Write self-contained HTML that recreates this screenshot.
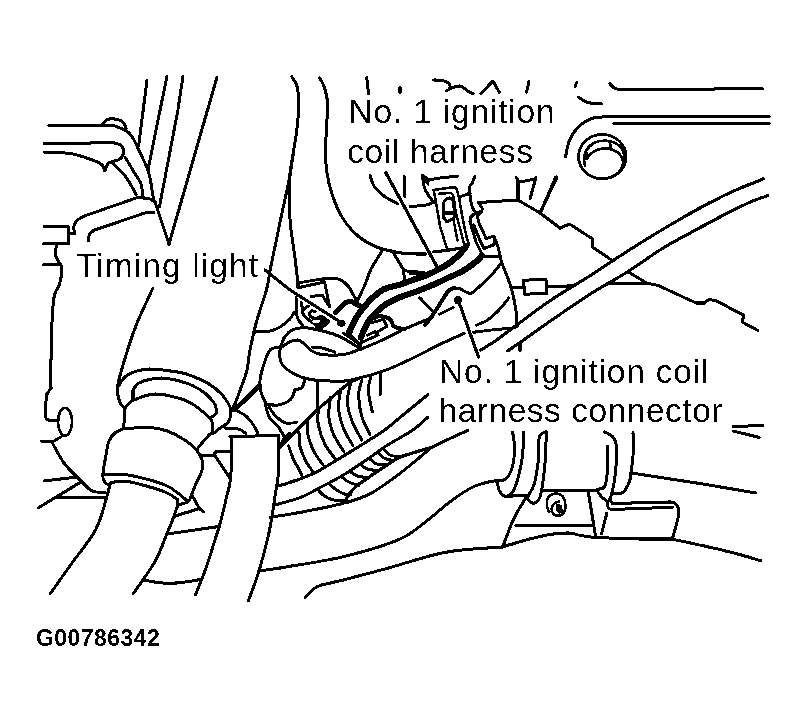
<!DOCTYPE html>
<html><head><meta charset="utf-8"><title>Timing light diagram</title>
<style>
html,body{margin:0;padding:0;background:#fff;}
body{width:807px;height:721px;overflow:hidden;font-family:"Liberation Sans",sans-serif;}
svg{display:block;}
text{font-family:"Liberation Sans",sans-serif;fill:#000;}
</style></head><body>
<svg width="807" height="721" viewBox="0 0 807 721">
<defs><filter id="bw" x="0" y="0" width="807" height="721" filterUnits="userSpaceOnUse" color-interpolation-filters="sRGB"><feComponentTransfer><feFuncR type="discrete" tableValues="0 1"/><feFuncG type="discrete" tableValues="0 1"/><feFuncB type="discrete" tableValues="0 1"/></feComponentTransfer></filter></defs>
<g filter="url(#bw)">
<rect width="807" height="721" fill="#fff"/>
<g fill="none" stroke="#000" stroke-width="3.0" stroke-linecap="round" stroke-linejoin="round">
<path d="M147.0,80.0 L138.6,146.0"/>
<path d="M167.0,76.0 L154.0,140.0 L148.0,170.0"/>
<path d="M183.0,76.0 L177.9,110.0 L159.4,207.0"/>
<path d="M217.0,77.0 L169.0,244.0"/>
<path d="M155.0,202.0 L169.0,244.0"/>
<path d="M48.7,125.2 L112.9,125.2"/>
<path d="M103.0,123.8 C103.5,123.2 104.7,121.1 106.0,120.3 C107.3,119.5 109.2,119.0 111.0,118.8 C112.8,118.6 115.0,118.9 116.8,119.3 C118.6,119.7 120.5,120.4 121.8,121.3 C123.1,122.2 124.0,123.6 124.8,124.8 C125.5,126.0 126.0,128.0 126.3,128.7"/>
<path d="M112.9,125.2 C114.6,125.9 120.2,127.9 122.8,129.2 C125.4,130.4 126.9,131.0 128.7,132.7 C130.5,134.4 132.0,136.6 133.7,139.6 C135.4,142.6 136.5,145.0 139.0,150.5 C141.5,156.0 146.2,164.6 148.6,172.4 C151.0,180.2 152.2,192.4 153.3,197.3 C154.4,202.2 154.7,201.2 155.0,202.0"/>
<path d="M44.0,143.6 L114.0,142.7"/>
<path d="M114.0,142.7 C115.2,143.2 119.4,143.9 121.0,145.5 C122.6,147.1 123.8,149.8 123.6,152.0 C123.4,154.2 121.8,157.4 120.0,159.0 C118.2,160.6 113.9,161.0 112.7,161.4"/>
<path d="M44.0,152.0 C48.4,152.3 62.5,152.3 70.6,153.6 C78.7,154.9 87.2,158.2 92.4,160.0 C97.6,161.8 99.7,162.8 101.8,164.6 C103.9,166.4 104.5,169.8 105.0,170.8"/>
<path d="M105.0,170.8 L108.0,163.0 L112.7,161.4"/>
<path d="M111.8,162.4 C113.8,164.3 120.2,170.1 123.5,174.0 C126.8,177.9 129.2,182.3 131.3,185.7 C133.4,189.1 135.3,193.0 136.1,194.5"/>
<path d="M125.4,157.6 C127.0,160.3 132.5,169.6 135.1,174.0 C137.7,178.4 139.7,179.9 141.0,183.8 C142.3,187.7 142.6,195.1 142.9,197.4"/>
<path d="M155.0,202.0 L150.0,199.0 L137.7,197.3 L130.0,200.2 L84.0,216.2"/>
<path d="M84.0,216.2 C82.9,216.8 79.2,218.4 77.5,220.0 C75.8,221.6 74.4,223.8 73.9,226.0 C73.4,228.2 74.3,232.2 74.4,233.5"/>
<path d="M74.4,233.5 L68.5,233.5"/>
<path d="M44.0,226.5 L68.5,226.5 L68.5,243.5 L43.5,243.5"/>
<path d="M56.4,244.4 C56.3,246.2 55.2,252.5 55.7,255.5 C56.2,258.5 58.1,260.3 59.1,262.4 C60.1,264.5 61.8,264.5 61.9,268.0 C62.0,271.5 60.8,279.3 59.8,283.2 C58.8,287.1 56.7,288.7 55.7,291.5 C54.7,294.3 54.2,294.9 53.6,300.0 C53.0,305.1 52.4,312.0 52.0,322.0 C51.6,332.0 51.2,349.0 51.0,360.0 C50.8,371.0 51.0,383.3 51.0,388.0"/>
<path d="M43.5,264.5 L59.8,264.5"/>
<path d="M88.5,240.5 L89.2,234.0 L93.5,230.5 L144.9,212.9 L153.6,212.5"/>
<path d="M51.0,388.0 L47.0,394.0"/>
<path d="M47.0,394.0 C46.7,396.7 45.2,406.0 45.0,410.0 C44.8,414.0 45.2,416.2 46.0,418.0 C46.8,419.8 48.0,420.2 50.0,420.5 C52.0,420.8 56.7,420.1 58.0,420.0"/>
<path d="M41.0,441.0 L52.0,442.0 L61.0,437.0"/>
<path d="M52.0,442.0 C54.0,445.5 59.1,456.4 64.0,463.0 C68.9,469.6 76.8,476.9 81.5,481.6 C86.2,486.3 88.5,489.2 92.4,491.0 C96.3,492.8 102.9,492.2 105.0,492.5"/>
<path d="M44.0,481.0 L77.0,477.0"/>
<path d="M38.0,508.0 L81.5,481.6"/>
<path d="M58.0,497.6 L106.5,497.6"/>
<path d="M153.0,288.0 C150.2,294.3 140.9,313.1 136.0,325.6 C131.1,338.1 126.7,352.6 123.6,363.0 C120.5,373.4 117.9,381.2 117.4,388.0 C116.9,394.8 119.2,400.3 120.5,403.6 C121.8,406.9 124.2,407.3 125.0,408.0"/>
<path d="M117.4,388.0 C119.0,385.9 121.6,378.7 126.8,375.5 C132.0,372.3 139.7,369.5 148.6,369.0 C157.5,368.5 172.7,371.3 180.0,372.5 C187.3,373.7 187.7,374.3 192.4,376.2 C197.2,378.1 203.8,380.7 208.5,383.6 C213.2,386.5 217.6,390.2 220.9,393.5 C224.2,396.8 226.7,400.6 228.3,403.5 C230.0,406.4 230.6,408.2 230.8,410.9 C231.0,413.6 230.4,417.3 229.6,419.6 C228.8,421.9 227.5,423.1 225.8,424.5 C224.2,425.9 221.8,426.8 219.7,428.2 C217.6,429.6 215.2,432.2 213.5,433.2 C211.8,434.2 212.0,432.3 209.7,434.4 C207.4,436.5 201.9,443.1 199.8,445.6 C197.7,448.1 197.7,448.7 197.3,449.3"/>
<path d="M133.0,391.0 C134.0,389.7 134.3,385.2 139.0,383.0 C143.7,380.8 154.2,378.3 161.0,378.0 C167.8,377.7 174.8,379.9 180.0,381.2 C185.2,382.4 188.3,383.5 192.4,385.5 C196.5,387.5 201.3,390.2 204.8,393.0 C208.3,395.8 211.5,399.4 213.5,402.2 C215.5,405.0 216.2,407.8 216.6,409.7 C217.0,411.6 216.9,412.1 216.0,413.4 C215.1,414.7 211.8,417.0 211.0,417.7"/>
<path d="M133.0,391.0 L133.0,400.5"/>
<path d="M125.0,408.0 C126.3,406.8 128.0,402.8 133.0,400.5 C138.0,398.2 147.2,394.3 155.0,394.0 C162.8,393.7 173.8,396.8 180.0,398.5 C186.2,400.2 188.3,401.5 192.4,404.0 C196.5,406.5 201.7,410.8 204.8,413.4 C207.9,416.0 209.7,417.5 211.0,419.6 C212.3,421.7 212.6,423.5 212.8,425.8 C213.0,428.1 212.3,432.0 212.2,433.2"/>
<path d="M125.0,408.0 L123.6,428.6"/>
<path d="M123.6,428.6 C122.2,429.3 117.4,430.9 115.0,433.0 C112.6,435.1 110.5,437.3 109.0,441.0 C107.5,444.7 107.0,449.3 106.0,455.0 C105.0,460.7 103.0,470.5 102.8,475.0 C102.6,479.5 103.7,480.2 104.8,482.0 C105.9,483.8 108.8,485.2 109.6,485.8"/>
<path d="M123.6,428.6 C128.0,428.4 142.7,427.1 150.0,427.5 C157.3,427.9 161.5,428.9 167.3,431.0 C173.1,433.1 179.8,436.8 184.7,440.0 C189.6,443.2 193.9,447.1 196.8,450.4 C199.7,453.7 201.1,456.7 202.0,460.0 C202.9,463.3 203.2,466.0 202.0,470.3 C200.8,474.6 196.7,481.9 195.0,486.0 C193.3,490.1 192.7,492.0 191.6,494.6 C190.5,497.2 190.5,499.8 188.2,501.5 C185.9,503.2 179.5,504.4 177.8,505.0"/>
<path d="M103.5,474.5 C107.1,474.5 117.2,473.6 125.0,474.5 C132.8,475.4 142.9,478.1 150.0,480.0 C157.1,481.9 162.7,483.8 167.3,486.0 C171.9,488.2 174.4,490.4 177.8,493.0 C181.2,495.6 186.3,500.1 188.0,501.5"/>
<path d="M109.6,485.8 C110.0,485.2 109.1,483.2 112.0,482.5 C114.9,481.8 120.7,480.8 127.0,481.5 C133.3,482.2 143.3,485.1 150.0,487.0 C156.7,488.9 162.7,490.9 167.3,493.0 C171.9,495.1 176.1,498.7 177.8,499.8"/>
<path d="M177.8,499.8 L177.8,505.0"/>
<path d="M191.6,494.6 L199.4,508.5 L203.8,512.0"/>
<path d="M174.3,516.3 L199.4,508.5"/>
<path d="M109.6,485.8 C109.1,487.8 108.8,490.6 106.5,498.0 C104.2,505.4 101.2,519.2 95.5,530.0 C89.8,540.8 79.6,552.3 72.0,563.0 C64.4,573.7 53.7,588.8 50.0,594.0"/>
<path d="M177.8,505.0 C176.9,507.5 174.3,515.2 172.5,520.0 C170.7,524.8 169.9,526.6 167.0,533.5 C164.1,540.4 160.7,551.4 155.0,561.5 C149.3,571.6 136.7,588.6 133.0,594.0"/>
<path d="M167.0,534.0 L219.0,526.6"/>
<path d="M142.4,580.0 C147.1,580.6 160.6,583.5 170.5,583.4 C180.4,583.3 196.5,580.2 201.7,579.6"/>
<path d="M292.9,155.2 C292.5,157.7 291.2,165.4 290.5,170.0 C289.8,174.6 289.9,175.9 288.5,183.0 C287.1,190.1 284.3,202.0 282.0,212.8 C279.7,223.6 276.6,238.8 274.7,248.0 C272.8,257.2 271.9,261.1 270.5,268.0 C269.1,274.9 268.8,281.0 266.5,289.7 C264.2,298.4 259.8,309.9 257.0,320.0 C254.2,330.1 251.7,341.7 250.0,350.0 C248.3,358.3 248.3,364.2 247.0,370.0 C245.7,375.8 244.1,379.2 242.0,385.0 C239.9,390.8 236.4,400.4 234.5,404.7 C232.6,409.0 231.4,409.9 230.8,410.9"/>
<path d="M254.7,332.0 C257.2,331.8 265.8,331.8 270.0,331.0 C274.2,330.2 276.7,329.0 280.0,327.0 C283.3,325.0 287.7,321.3 290.0,319.0 C292.3,316.7 292.7,314.1 293.7,313.0 C294.7,311.9 295.6,312.4 296.0,312.3"/>
<path d="M229.8,436.5 L278.4,435.6"/>
<path d="M278.4,435.6 C278.4,441.7 279.0,461.9 278.4,472.0 C277.8,482.1 276.2,488.3 275.0,496.3 C273.8,504.3 272.6,513.2 271.4,520.0 C270.2,526.8 270.1,528.5 268.0,537.0 C265.9,545.5 262.2,560.4 259.0,571.0 C255.8,581.6 250.2,595.6 248.5,600.5"/>
<path d="M231.5,436.5 C231.4,443.3 231.6,467.1 230.7,477.3 C229.8,487.6 227.9,490.9 226.3,498.0 C224.7,505.1 222.6,514.1 221.0,520.0 C219.4,525.9 219.5,525.5 217.0,533.5 C214.5,541.5 209.6,557.8 206.0,568.0 C202.4,578.2 197.2,590.5 195.4,595.0"/>
<path d="M259.0,571.0 L280.0,568.0"/>
<path d="M225.8,428.2 C227.9,428.3 234.9,428.1 238.2,428.9 C241.5,429.7 244.4,432.5 245.7,433.2"/>
<path d="M235.8,410.3 C237.5,411.2 242.8,413.4 245.7,415.8 C248.6,418.2 251.0,421.5 253.1,424.5 C255.2,427.5 257.2,432.2 258.0,433.8"/>
<path d="M200.3,455.6 L214.2,455.6 L215.0,452.0 L230.7,451.2"/>
<path d="M215.0,455.6 L229.8,478.0"/>
<path d="M291.9,76.9 C292.7,78.4 295.8,81.3 296.9,85.8 C298.0,90.2 298.8,96.3 298.8,103.6 C298.8,110.9 297.9,120.8 296.9,129.4 C295.9,138.0 294.1,146.8 292.9,155.2 C291.7,163.6 290.1,173.4 289.5,180.0 C288.9,186.6 289.4,187.8 289.5,195.0 C289.6,202.2 289.5,213.3 290.3,223.2 C291.1,233.1 293.2,244.3 294.5,254.3 C295.8,264.3 297.4,278.2 298.0,283.0"/>
<path d="M298.0,283.0 L298.0,287.7"/>
<path d="M348.7,333.3 L360.9,345.7"/>
<path d="M343.5,333.3 L359.0,343.7 L378.2,335.0 L374.7,331.5 L367.8,335.0"/>
<path d="M371.2,322.9 L383.4,319.4 L386.8,326.3 L378.2,331.5"/>
<path d="M298.0,283.0 C302.0,282.3 315.5,279.7 322.2,279.0 C328.9,278.3 334.0,277.8 338.3,279.0 C342.6,280.2 345.1,282.5 348.0,286.0 C350.9,289.5 354.7,297.5 356.0,299.8"/>
<path d="M298.0,287.7 L324.6,282.0 L329.5,307.0"/>
<path d="M311.0,296.6 L322.2,295.0 L327.9,304.6"/>
<path d="M284.0,338.0 C283.5,339.3 281.8,343.3 281.0,346.0 C280.2,348.7 279.3,351.0 279.5,354.0 C279.7,357.0 280.2,361.1 282.0,364.0 C283.8,366.9 286.0,369.1 290.0,371.5 C294.0,373.9 299.3,376.9 306.0,378.5 C312.7,380.1 322.5,380.8 330.0,381.0 C337.5,381.2 341.8,381.9 351.2,380.0 C360.6,378.1 375.1,374.1 386.6,369.9 C398.1,365.6 411.1,358.8 420.0,354.5 C428.9,350.2 432.6,347.9 440.0,344.3 C447.4,340.8 460.2,335.1 464.2,333.2"/>
<path d="M284.0,338.0 C285.0,336.9 287.4,332.9 290.0,331.2 C292.6,329.5 295.9,328.4 299.7,328.0 C303.5,327.6 306.2,327.5 312.6,328.8 C319.0,330.1 330.2,332.6 338.3,336.0 C346.4,339.4 357.1,346.8 360.9,349.0"/>
<path d="M282.0,347.0 C283.3,346.1 287.3,342.9 290.0,341.7 C292.7,340.5 295.6,339.6 298.0,340.0 C300.4,340.4 302.3,342.2 304.5,344.0 C306.7,345.8 308.1,348.7 311.0,350.5 C313.9,352.3 316.8,353.9 322.2,354.6 C327.6,355.3 336.8,355.5 343.2,354.6 C349.6,353.7 354.7,351.3 360.9,349.0 C367.1,346.7 373.0,344.3 380.2,341.0 C387.4,337.7 400.2,331.0 404.2,329.0"/>
<path d="M312.6,347.3 C314.2,347.4 318.5,347.2 322.2,348.0 C325.9,348.8 332.9,351.3 335.0,352.0"/>
<path d="M280.0,347.0 C278.3,347.5 272.7,347.2 270.0,350.0 C267.3,352.8 265.7,359.0 264.0,364.0 C262.3,369.0 260.5,375.3 260.0,380.0 C259.5,384.7 260.0,388.0 261.0,392.0 C262.0,396.0 265.2,402.0 266.0,404.0"/>
<path d="M266.0,404.0 C268.0,404.2 274.0,405.7 278.0,405.0 C282.0,404.3 287.2,402.5 290.0,400.0 C292.8,397.5 294.2,391.7 295.0,390.0"/>
<path d="M295.0,390.0 L302.0,388.0 L305.0,380.0"/>
<path d="M265.5,404.7 C266.1,406.8 267.1,413.3 269.2,417.0 C271.3,420.7 275.8,423.6 278.4,427.0 C280.9,430.4 283.5,435.6 284.5,437.3"/>
<path d="M284.5,437.3 L279.7,447.0"/>
<path d="M290.0,433.0 L284.5,437.3"/>
<path d="M269.2,407.2 C270.2,408.6 272.6,413.2 275.4,415.8 C278.2,418.4 282.5,421.9 286.0,423.0 C289.5,424.1 294.8,422.4 296.6,422.3"/>
<path d="M318.0,382.0 L317.0,410.0"/>
<path d="M280.0,447.0 L318.0,409.0 L350.0,382.0 L358.0,379.0"/>
<path d="M296.0,297.4 C296.1,299.9 295.9,308.6 296.3,312.3 C296.7,316.0 297.1,317.6 298.2,319.7 C299.2,321.8 301.9,324.1 302.6,325.0"/>
<path d="M301.2,302.6 C301.4,303.7 302.2,307.3 302.6,309.3 C303.0,311.3 302.4,312.8 303.4,314.5 C304.4,316.2 307.1,318.3 308.6,319.7 C310.1,321.1 311.7,322.2 312.3,322.7"/>
<path d="M302.8,310.5 L307.1,306.4 L308.6,306.0"/>
<path d="M315.3,311.6 C314.7,311.5 312.6,310.4 311.6,310.8 C310.6,311.2 309.4,312.8 309.3,313.8 C309.2,314.8 309.9,316.1 310.8,316.8 C311.7,317.6 313.9,318.1 314.5,318.3"/>
<path d="M288.5,445.7 C289.2,447.6 290.2,452.0 292.5,457.0 C294.8,462.0 300.4,472.4 302.0,475.5"/>
<path d="M299.0,432.0 C299.1,434.3 298.7,441.0 299.8,445.7 C300.9,450.4 303.2,455.9 305.4,460.2 C307.5,464.5 311.5,469.6 312.7,471.5"/>
<path d="M307.9,418.3 C307.9,421.0 306.8,428.8 307.9,434.4 C309.0,440.0 311.8,447.1 314.3,452.2 C316.9,457.3 321.7,462.9 323.2,465.0"/>
<path d="M318.3,409.5 C318.3,412.1 317.2,419.1 318.3,424.8 C319.4,430.6 322.1,438.5 324.8,444.0 C327.5,449.5 332.8,455.5 334.4,457.8"/>
<path d="M330.4,397.4 C330.1,400.6 328.3,410.5 328.8,416.7 C329.3,422.9 331.1,428.5 333.6,434.4 C336.1,440.3 342.3,449.1 344.0,452.0"/>
<path d="M340.9,389.3 C340.5,392.2 338.1,400.6 338.5,407.0 C338.9,413.4 340.9,421.6 343.3,428.0 C345.7,434.4 351.4,442.8 353.0,445.7"/>
<path d="M350.5,383.7 C350.0,386.8 347.0,395.9 347.3,402.2 C347.6,408.5 349.8,415.2 352.2,421.5 C354.6,427.8 360.2,436.9 361.8,440.0"/>
<path d="M361.8,380.5 C361.3,382.8 358.6,388.2 358.6,394.2 C358.6,400.2 359.9,410.0 361.8,416.7 C363.7,423.4 368.5,431.4 369.9,434.4"/>
<path d="M370.7,377.2 C370.3,379.5 368.0,385.2 368.3,391.0 C368.6,396.8 371.6,408.4 372.3,411.9"/>
<path d="M380.3,374.0 L380.3,394.2"/>
<path d="M279.0,486.0 C282.5,484.8 293.6,481.4 300.0,479.0 C306.4,476.6 310.1,475.4 317.3,471.6 C324.5,467.8 334.7,461.3 343.4,456.0 C352.1,450.7 362.2,444.6 369.4,440.0 C376.6,435.4 381.6,432.2 386.7,428.5 C391.8,424.8 393.1,423.2 400.0,417.5 C406.9,411.8 423.3,398.3 428.0,394.5"/>
<path d="M275.0,505.0 C279.2,503.8 292.9,500.4 300.0,497.7 C307.1,495.0 310.1,492.8 317.3,489.0 C324.5,485.2 334.7,480.2 343.4,475.0 C352.1,469.8 362.2,462.7 369.4,457.8 C376.6,452.9 379.5,450.2 386.7,445.6 C393.9,441.0 405.9,434.8 412.8,430.0 C419.7,425.2 425.5,419.2 428.0,417.0"/>
<path d="M270.0,517.5 C275.0,516.6 290.7,514.1 300.0,512.4 C309.3,510.7 318.5,508.8 326.0,507.2 C333.5,505.6 337.8,505.1 345.0,502.9 C352.2,500.7 361.0,498.5 369.4,494.2 C377.8,489.9 386.7,483.2 395.4,476.8 C404.1,470.4 415.3,460.9 421.4,456.0 C427.5,451.1 427.1,450.2 431.9,447.3 C436.7,444.4 444.0,441.3 450.0,438.5 C456.0,435.7 464.8,431.8 467.8,430.4"/>
<path d="M317.3,489.0 C318.5,490.1 321.4,494.0 324.3,495.9 C327.2,497.8 331.2,499.4 334.7,500.3 C338.1,501.2 343.3,500.9 345.0,501.0"/>
<path d="M329.5,483.8 C330.6,484.8 333.5,488.0 336.4,489.9 C339.3,491.8 344.5,494.1 346.8,495.0 C349.1,495.9 349.7,495.0 350.3,495.0"/>
<path d="M341.6,476.8 C342.8,477.7 345.7,480.6 348.6,482.0 C351.5,483.4 357.3,484.9 359.0,485.5"/>
<path d="M350.3,471.6 C351.5,472.3 354.4,475.0 357.3,476.0 C360.2,477.0 366.0,477.4 367.7,477.7"/>
<path d="M360.7,464.7 C361.9,465.4 364.8,468.0 367.7,469.0 C370.6,470.0 376.3,470.5 378.0,470.8"/>
<path d="M369.4,458.6 C370.5,459.5 373.4,462.8 376.3,463.8 C379.2,464.8 385.0,464.6 386.7,464.7"/>
<path d="M378.0,452.5 C378.9,453.4 381.0,456.5 383.3,457.8 C385.6,459.1 390.6,460.0 392.0,460.4"/>
<path d="M384.1,450.0 C385.1,450.9 387.7,454.1 390.2,455.2 C392.7,456.3 397.4,456.6 398.9,456.9"/>
<path d="M319.7,77.8 C320.5,79.5 323.3,83.5 324.6,87.8 C325.9,92.1 327.3,97.3 327.6,103.6 C327.9,109.9 326.9,117.8 326.6,125.4 C326.3,133.0 325.6,141.4 325.6,149.2 C325.6,157.0 325.7,164.5 326.8,172.0 C327.9,179.5 329.5,186.5 332.0,194.0 C334.5,201.5 337.7,210.0 342.0,217.0 C346.3,224.0 352.0,230.9 358.0,236.0 C364.0,241.1 371.3,244.8 378.0,247.5 C384.7,250.2 392.3,251.4 398.0,252.5 C403.7,253.6 407.3,253.6 412.0,253.8 C416.7,254.1 423.7,254.0 426.0,254.0"/>
<path d="M370.0,175.0 C370.7,176.8 371.7,182.5 374.0,186.0 C376.3,189.5 380.0,193.0 384.0,196.0 C388.0,199.0 395.7,202.7 398.0,204.0"/>
<path d="M404.0,176.0 L405.0,197.0"/>
<path d="M410.0,206.4 C412.7,206.2 422.0,205.7 426.0,205.0 C430.0,204.3 432.7,202.5 434.0,202.0"/>
<path d="M422.4,175.4 C422.7,177.5 423.2,184.2 424.4,187.8 C425.6,191.4 427.8,194.2 429.4,196.7 C431.0,199.2 433.5,201.7 434.3,202.7"/>
<path d="M422.4,175.4 L429.4,179.9 L440.0,177.9 L458.0,176.0"/>
<path d="M382.0,251.0 C380.1,254.2 373.2,264.7 370.5,270.0 C367.8,275.3 367.8,277.9 365.7,283.0 C363.6,288.1 359.2,297.0 357.6,300.6 C356.0,304.2 356.3,303.9 356.0,304.6"/>
<path d="M393.8,253.5 L404.2,270.8 L423.3,272.6"/>
<path d="M403.3,270.8 L405.0,280.4"/>
<path d="M454.6,287.9 C455.5,288.1 458.1,288.2 460.2,289.0 C462.2,289.8 465.0,291.6 466.9,292.4 C468.8,293.1 469.3,294.4 471.3,293.5 C473.3,292.6 475.9,289.8 479.0,287.0 C482.1,284.2 486.4,280.7 490.0,276.8 C493.6,272.9 498.9,265.9 500.7,263.7"/>
<path d="M419.5,297.5 L432.5,311.0"/>
<path d="M453.1,307.5 L439.7,314.2"/>
<path d="M404.2,329.0 L432.0,317.7"/>
<path d="M443.7,217.4 C443.6,215.5 442.9,209.1 443.1,206.2 C443.3,203.3 443.9,201.3 445.0,200.0 C446.1,198.7 448.6,197.9 450.0,198.1 C451.4,198.3 452.4,198.6 453.1,201.2 C453.8,203.8 454.2,210.8 454.3,213.7 C454.4,216.6 453.8,217.9 453.7,218.7"/>
<path d="M443.7,217.4 L446.8,221.8 L453.7,218.7"/>
<path d="M443.5,213.1 L453.9,213.1"/>
<path d="M474.9,176.2 C474.5,177.2 473.2,180.8 472.4,182.5 C471.6,184.2 470.3,184.1 469.9,186.2 C469.5,188.3 469.5,191.4 469.9,195.0 C470.3,198.6 471.6,204.8 472.4,207.5 C473.2,210.2 474.5,210.6 474.9,211.2"/>
<path d="M469.9,193.1 L460.0,196.8"/>
<path d="M433.4,251.7 L446.8,250.4 L462.4,247.8 L466.5,247.3"/>
<path d="M410.0,274.0 L423.4,272.6"/>
<path d="M478.7,202.5 L518.0,200.0 L518.0,180.0 L516.0,177.0"/>
<path d="M520.0,182.0 L535.0,179.0"/>
<path d="M536.0,177.0 L530.0,199.0"/>
<path d="M557.0,177.0 L540.0,213.0"/>
<path d="M518.0,200.0 L540.0,213.0 L560.0,228.0"/>
<path d="M478.7,202.5 L482.4,208.7 L481.2,212.4 L477.4,216.2 L478.7,222.4 L486.2,238.7 L493.7,236.2"/>
<path d="M481.8,211.2 L473.7,214.3 L470.6,217.4 L469.9,221.2 L472.4,229.9 L476.2,242.4 L481.2,252.4 L482.0,255.8 L499.2,257.0"/>
<path d="M473.7,224.9 L478.7,237.4 L483.7,248.7 L493.7,244.9 L494.9,239.9"/>
<path d="M493.7,236.2 C494.3,237.6 496.4,241.8 497.4,244.9 C498.4,248.0 499.1,251.8 499.9,254.9 C500.7,258.0 500.3,258.3 502.2,263.7 C504.1,269.1 508.9,280.1 511.1,287.5 C513.3,294.9 514.6,302.1 515.6,308.3 C516.6,314.6 516.8,322.2 517.0,325.0"/>
<path d="M511.0,287.5 L524.0,287.5"/>
<path d="M523.6,280.2 L546.0,279.3 L546.9,293.2 L524.6,294.2 L523.6,280.2"/>
<path d="M546.9,286.7 L573.8,285.8"/>
<path d="M508.9,297.9 C507.3,299.9 502.8,306.1 499.2,309.8 C495.6,313.5 491.0,317.7 487.3,320.2 C483.6,322.7 478.6,324.2 476.9,325.0"/>
<path d="M609.6,83.4 C610.3,84.2 612.4,87.0 614.0,88.0 C615.6,89.0 618.2,89.3 619.0,89.6"/>
<path d="M619.0,89.6 L762.5,88.7"/>
<path d="M577.0,82.0 L575.0,86.5"/>
<path d="M578.6,97.2 C580.2,98.1 584.6,101.5 588.5,102.6 C592.4,103.7 599.8,103.8 602.0,104.0"/>
<path d="M769.0,116.5 L608.0,116.5"/>
<path d="M608.0,116.5 C605.8,116.7 598.6,116.8 594.6,117.8 C590.6,118.8 587.3,120.1 584.0,122.3 C580.7,124.5 577.5,127.8 575.0,131.0 C572.5,134.2 570.6,137.3 569.0,141.6 C567.4,145.8 566.2,154.0 565.6,156.5"/>
<path d="M614.0,123.5 L769.0,123.5"/>
<path d="M555.6,177.0 L541.0,211.4"/>
<path d="M560.0,228.0 L569.5,224.0 L592.7,239.0 L592.7,247.3 L613.0,261.0"/>
<path d="M628.0,271.8 L647.0,283.2 L658.0,285.4 L696.0,303.0 L704.5,303.0 L708.6,299.6 L715.4,300.4 L744.0,315.4 L742.0,322.0 L757.7,330.4"/>
<path d="M609.0,283.2 L647.0,283.2"/>
<path d="M366.7,77.4 L368.5,93.5"/>
<path d="M400.0,87.5 L400.0,92.5"/>
<path d="M433.6,79.9 C435.3,80.1 441.4,80.4 444.0,81.0 C446.6,81.6 448.2,82.2 449.2,83.5 C450.1,84.8 450.2,87.2 449.7,88.5 C449.2,89.8 446.6,90.6 446.0,91.0"/>
<path d="M449.7,88.5 C451.4,88.1 456.4,85.4 459.7,86.0 C463.0,86.6 467.3,91.0 469.6,92.3 C471.9,93.5 472.7,93.3 473.3,93.5"/>
<path d="M480.7,93.5 L493.0,81.0 L499.3,92.3"/>
<path d="M526.6,92.3 L529.0,81.0"/>
<path d="M473.5,332.3 C477.2,331.8 489.0,330.3 495.8,329.5 C502.6,328.7 510.6,328.5 514.3,327.6 C518.0,326.7 517.4,324.6 518.0,324.0"/>
<path d="M520.0,343.4 L520.0,350.9"/>
<path d="M733.0,426.5 L762.5,425.6"/>
<path d="M733.0,431.0 L759.4,437.5"/>
<path d="M546.3,431.9 C546.1,436.5 545.9,450.8 545.3,459.7 C544.6,468.6 543.4,479.0 542.4,485.4 C541.4,491.8 540.9,495.3 539.4,498.3 C537.9,501.3 535.4,503.1 533.4,503.3 C531.4,503.5 528.5,500.0 527.5,499.3"/>
<path d="M546.3,431.9 C545.1,432.7 540.7,432.3 539.4,436.9 C538.1,441.5 539.2,451.9 538.4,459.7 C537.6,467.4 536.0,477.5 534.4,483.4 C532.8,489.3 529.8,492.8 528.5,495.3 C527.2,497.8 526.8,497.8 526.5,498.3"/>
<path d="M542.4,490.5 L588.0,490.5 L596.4,490.0 L603.8,487.8"/>
<path d="M603.8,487.8 C604.2,486.8 605.3,485.7 606.0,481.9 C606.7,478.1 607.5,471.0 607.8,465.0 C608.1,459.0 607.8,449.2 607.8,446.0"/>
<path d="M604.8,431.9 C606.3,432.9 611.7,434.8 613.7,437.8 C615.7,440.8 616.4,444.3 616.7,449.7 C617.0,455.1 616.1,464.6 615.7,470.0 C615.3,475.4 614.8,478.2 614.2,481.9 C613.6,485.6 612.8,489.3 612.0,492.3 C611.2,495.3 610.5,498.2 609.7,499.7 C609.0,501.2 608.7,501.6 607.5,501.2 C606.3,500.8 604.0,499.2 602.3,497.5 C600.6,495.8 598.0,491.9 597.1,490.8"/>
<path d="M633.0,432.8 C633.0,436.7 633.3,449.8 633.0,456.0 C632.7,462.2 631.8,465.9 631.3,470.0 C630.8,474.1 630.9,476.9 629.8,480.4 C628.7,483.9 626.0,488.7 624.6,490.8 C623.2,492.9 623.6,492.6 621.6,493.0 C619.6,493.4 614.2,493.0 612.7,493.0"/>
<path d="M631.3,473.0 L700.0,483.4 L756.0,493.0"/>
<path d="M609.7,499.7 L612.7,503.5"/>
<path d="M612.7,503.5 L669.2,502.0"/>
<path d="M669.2,502.0 C670.2,502.2 673.6,502.1 675.2,503.5 C676.8,504.9 678.5,507.2 678.9,510.1 C679.3,513.0 678.5,515.8 677.4,520.6 C676.3,525.4 673.1,536.0 672.2,539.1"/>
<path d="M607.5,502.0 C607.6,503.0 607.7,506.7 608.3,507.9 C608.9,509.1 610.7,509.1 611.2,509.4"/>
<path d="M611.2,509.4 L672.9,507.2"/>
<path d="M588.2,491.6 L595.6,536.2"/>
<path d="M606.8,513.1 L601.6,533.9"/>
<path d="M515.6,525.5 L590.6,525.5"/>
<path d="M502.7,546.9 C507.2,545.6 521.1,541.1 529.5,539.0 C537.9,536.9 546.7,535.0 553.3,534.0 C559.9,533.0 564.5,532.8 569.1,533.0 C573.7,533.2 576.8,534.8 581.0,535.5 C585.2,536.2 592.1,537.2 594.3,537.5"/>
<path d="M594.3,537.5 L639.5,539.1 L672.2,539.1"/>
<path d="M672.2,539.1 C676.8,540.1 690.4,543.0 700.0,545.1 C709.6,547.2 719.8,549.4 730.0,552.0 C740.2,554.6 755.8,559.2 761.0,560.7"/>
<path d="M512.6,431.9 C512.9,434.9 514.8,443.4 514.6,449.7 C514.4,456.0 513.2,464.6 511.6,469.6 C510.0,474.6 507.2,477.7 504.7,479.5 C502.2,481.3 498.1,480.3 496.8,480.5"/>
<path d="M523.5,431.9 C523.3,435.9 523.5,447.8 522.5,455.7 C521.5,463.6 519.4,473.2 517.6,479.5 C515.8,485.8 513.6,490.6 511.6,493.4 C509.6,496.2 507.7,496.6 505.7,496.3 C503.7,496.0 501.2,494.0 499.7,491.4 C498.2,488.8 497.3,482.3 496.8,480.5"/>
<path d="M505.7,496.3 L526.5,495.3"/>
<path d="M525.5,498.3 C523.5,501.8 517.4,511.0 513.6,519.1 C509.8,527.2 504.5,542.3 502.7,546.9"/>
<path d="M280.0,567.8 C290.4,566.0 322.6,561.6 342.4,556.9 C362.2,552.2 384.6,545.7 398.6,539.7 C412.7,533.7 418.9,526.7 426.7,521.0 C434.5,515.3 439.7,509.9 445.4,505.4 C451.1,500.9 456.2,497.1 461.0,494.0 C465.8,490.9 469.8,488.4 474.0,486.5 C478.2,484.6 482.2,483.5 486.0,482.5 C489.8,481.5 495.0,480.8 496.8,480.5"/>
<path d="M305.0,597.4 C307.1,595.6 311.3,589.4 317.5,586.5 C323.7,583.6 330.4,583.4 342.4,580.3 C354.3,577.2 372.0,572.5 389.2,567.8 C406.4,563.1 426.5,555.7 445.4,552.2 C464.3,548.7 493.1,547.8 502.7,546.9"/>
</g>
<g fill="none" stroke="#000" stroke-width="4.8" stroke-linecap="round" stroke-linejoin="round">
<path d="M259.3,386.0 L234.5,409.7"/>
</g>
<g fill="none" stroke="#000" stroke-width="3.2" stroke-linecap="round" stroke-linejoin="round">
<path d="M265.0,270.0 L290.0,290.0 L341.3,322.7"/>
<path d="M345.0,501.0 C345.8,499.7 347.9,495.6 350.0,493.0 C352.1,490.4 353.2,488.8 357.3,485.5 C361.4,482.2 368.0,477.9 374.6,473.4 C381.2,468.9 391.1,461.9 397.2,458.6 C403.3,455.3 405.2,455.3 411.0,453.4 C416.8,451.5 428.4,448.3 431.9,447.3"/>
<path d="M459.5,303.8 L478.5,357.0"/>
</g>
<g fill="none" stroke="#000" stroke-width="3.3" stroke-linecap="round" stroke-linejoin="round">
<path d="M386.0,173.0 L438.5,269.6"/>
</g>
<g fill="none" stroke="#000" stroke-width="5.0" stroke-linecap="round" stroke-linejoin="round">
<path d="M335.2,312.5 L345.3,302.5 L351.2,301.0 L355.0,303.6 L361.6,306.6"/>
</g>
<g fill="none" stroke="#000" stroke-width="6.2" stroke-linecap="round" stroke-linejoin="round">
<path d="M348.7,333.3 C350.1,330.4 353.8,321.4 357.3,316.0 C360.8,310.6 365.1,305.2 369.5,300.8 C373.9,296.4 378.3,292.2 383.4,289.5 C388.5,286.8 395.4,286.1 400.0,284.6 C404.6,283.1 406.5,282.4 411.1,280.7 C415.8,279.0 422.3,277.0 427.9,274.6 C433.5,272.2 440.0,269.0 444.6,266.2 C449.2,263.4 452.6,260.5 455.7,257.8 C458.8,255.1 461.8,251.9 463.5,250.0 C465.2,248.1 465.6,247.1 466.0,246.5"/>
<path d="M360.8,337.5 C362.2,334.6 365.7,325.1 369.5,319.8 C373.3,314.6 378.3,309.8 383.4,306.0 C388.5,302.2 394.4,299.6 400.0,297.2 C405.6,294.8 411.1,293.4 416.7,291.3 C422.3,289.2 427.8,287.0 433.4,284.6 C439.0,282.2 445.4,279.0 450.2,276.8 C455.0,274.6 458.7,273.2 462.4,271.2 C466.1,269.1 469.5,266.8 472.5,264.5 C475.5,262.2 478.8,259.0 480.3,257.5 C481.8,256.0 481.4,255.8 481.6,255.5"/>
</g>
<g fill="none" stroke="#000" stroke-width="4.0" stroke-linecap="round" stroke-linejoin="round">
<path d="M374.0,318.0 C375.0,317.7 377.2,315.8 379.9,316.0 C382.6,316.2 388.0,317.7 390.3,319.4 C392.6,321.1 391.5,324.7 393.8,326.3 C396.1,327.9 402.5,328.6 404.2,329.0"/>
<path d="M424.9,325.0 C426.1,323.4 429.4,319.9 432.3,315.7 C435.2,311.5 439.6,304.2 442.4,300.0 C445.2,295.8 447.0,292.2 449.0,290.2 C451.0,288.2 453.7,288.3 454.6,287.9"/>
</g>
<g fill="none" stroke="#000" stroke-width="2.5" stroke-linecap="round" stroke-linejoin="round">
<path d="M433.7,190.0 L453.7,186.9 L456.4,188.1 L459.0,197.5 L462.9,220.0 L466.7,237.4 L469.0,244.9"/>
</g>
<g fill="none" stroke="#000" stroke-width="2.6" stroke-linecap="round" stroke-linejoin="round">
<path d="M433.7,190.0 L436.2,203.7 L440.0,226.2 L445.0,242.4 L447.5,249.5"/>
</g>
<g fill="none" stroke="#000" stroke-width="2.4" stroke-linecap="round" stroke-linejoin="round">
<path d="M438.7,193.7 C440.7,193.6 448.3,192.5 450.8,193.1 C453.3,193.7 453.0,194.5 453.8,197.5 C454.6,200.5 454.5,205.8 455.6,211.2 C456.7,216.6 459.0,224.5 460.4,229.9 C461.8,235.3 463.4,241.4 464.0,243.7"/>
<path d="M453.4,218.7 C453.7,220.6 454.7,226.3 455.4,229.9 C456.1,233.5 457.2,238.7 457.6,240.5"/>
</g>
<g fill="none" stroke="#000" stroke-width="3.1" stroke-linecap="round" stroke-linejoin="round">
<path d="M763.7,178.8 C759.6,180.5 748.1,184.7 739.0,188.7 C729.9,192.7 719.1,197.9 709.2,203.0 C699.3,208.1 689.4,213.8 679.5,219.5 C669.6,225.2 659.6,231.2 649.7,237.3 C639.8,243.4 630.0,249.6 620.0,256.0 C610.0,262.4 601.4,268.5 590.0,275.8 C578.6,283.1 563.5,291.7 551.5,299.7 C539.5,307.7 527.3,317.2 518.0,324.0 C508.7,330.8 502.0,336.3 495.8,340.6 C489.6,344.9 483.4,348.4 480.9,350.0"/>
<path d="M767.7,195.7 C764.6,196.8 757.0,199.0 748.9,202.6 C740.8,206.2 729.0,212.4 719.1,217.5 C709.2,222.6 699.3,228.0 689.4,233.4 C679.5,238.8 669.8,243.8 659.6,250.2 C649.4,256.6 639.6,264.2 628.0,271.5 C616.4,278.8 602.8,286.1 590.0,294.2 C577.2,302.3 563.2,312.1 551.5,320.2 C539.8,328.2 527.3,337.4 520.0,342.5 C512.7,347.6 509.8,349.5 507.8,350.9"/>
</g>

<g fill="none" stroke="#000" stroke-width="2.6">
<ellipse cx="65" cy="421.7" rx="7" ry="14"/>
<ellipse cx="602.3" cy="156.6" rx="23.8" ry="22.2" stroke-width="2.8"/>
<path d="M586.4,160 C589,153.5 596,149 603.5,148.4 C611,148.3 618,151.5 621.4,156.5 C624,161 623.5,167 618.4,172.9 C616,175.5 613,177 609.5,178.1"/>
<path d="M585.5,167 C582,158 585,148 594,143 C603,138.5 616,140 622,149 C624,152 624.5,155 624.3,157.5"/>
<path d="M609.5,141 L611,148.3 M586.4,152 L587.2,159.5"/>
<g transform="translate(-0.8,-0.6)"><path d="M550.4,513.5 C546.5,507 546.5,498.5 552,495.3 C556,493.5 561,493.8 563.5,497 C566.5,502 567.5,509 564.5,513.5 C562,517 556.5,517.5 553.5,513.5 C551,509 553,503.5 560.9,501.7"/>
<path d="M557.2,504.8 L562.1,506 L563.4,512.2 L559.7,514 L557.2,511 Z" fill="#000" stroke-width="1"/></g>
</g>
<ellipse cx="341.3" cy="323.2" rx="4.2" ry="3.4" fill="#000"/>
<path d="M313,319 L319.7,315.3 L322,314.5 L325,316.8 L330.1,320.5 L329.4,323.5 L325.7,326.4 L321.2,329.4 L319.7,331.6 L316,330.1 L315.3,326.4 L312.3,323.5 L311.5,320.5 Z" fill="#000"/>
<ellipse cx="316.2" cy="321.3" rx="3.8" ry="1.7" fill="#fff"/>
<path d="M421.6,174.6 L430,179.6 L428.8,186 L425,183 Z" fill="#000"/>
<circle cx="458" cy="300.3" r="4.2" fill="#000"/>
<text x="348.4" y="123" font-size="33.5" textLength="206.3" lengthAdjust="spacing">No. 1 ignition</text>
<text x="347.2" y="162.6" font-size="33.5" textLength="185.8" lengthAdjust="spacing">coil harness</text>
<text x="76" y="276.8" font-size="33.5" textLength="182" lengthAdjust="spacing">Timing light</text>
<text x="439" y="382.8" font-size="33.5" textLength="269.5" lengthAdjust="spacing">No. 1 ignition coil</text>
<text x="438.5" y="422.4" font-size="33.5" textLength="284" lengthAdjust="spacing">harness connector</text>
<text x="36" y="645.7" font-size="23" font-weight="bold" textLength="123.8" lengthAdjust="spacing">G00786342</text>
</g>
</svg>
</body></html>
